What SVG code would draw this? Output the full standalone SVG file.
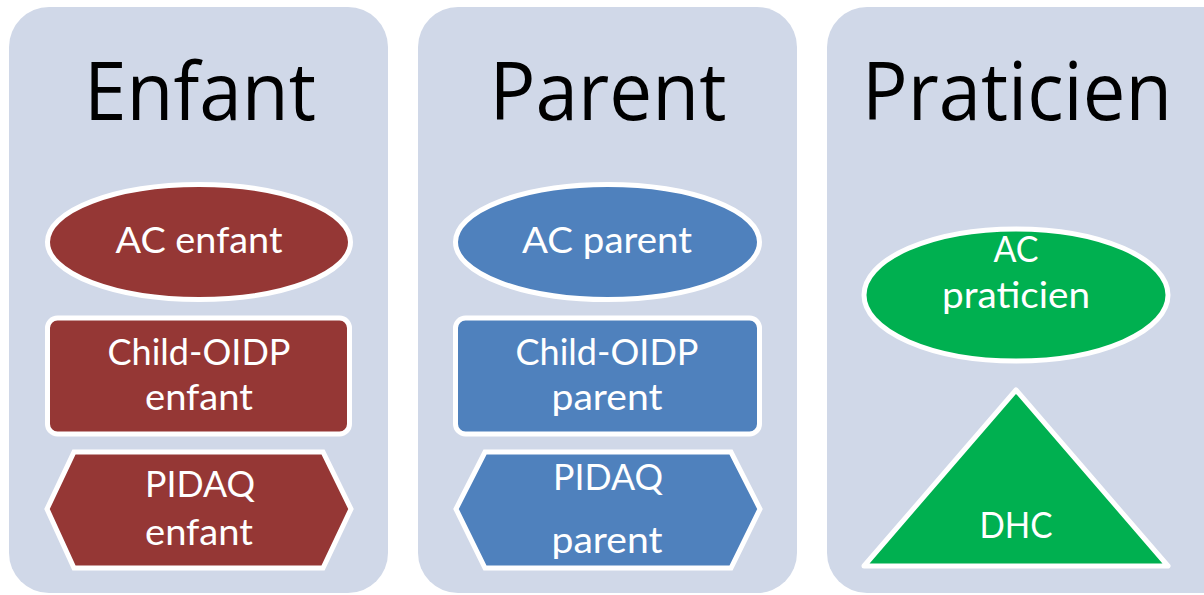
<svg xmlns="http://www.w3.org/2000/svg" width="1204" height="595" viewBox="0 0 1204 595">
<style>
.panel{fill:#D0D8E8}
.shape{stroke:#FFFFFF;stroke-width:5}
.red{fill:#953735}
.blue{fill:#4F81BD}
.green{fill:#00B050}
.title{font-family:"Open Sans","Liberation Sans",sans-serif;font-size:80px;fill:#000000;text-anchor:middle}
.lbl{font-family:Lato,"Liberation Sans",sans-serif;font-size:37px;fill:#FFFFFF;text-anchor:middle}
</style>
<rect width="1204" height="595" fill="#FFFFFF"/>
<g id="panel-enfant">
<rect class="panel" x="9" y="7" width="379" height="586" rx="40"/>
<text class="title" x="200" y="120" textLength="232" lengthAdjust="spacingAndGlyphs">Enfant</text>
</g>
<g id="panel-parent">
<rect class="panel" x="418" y="7" width="379" height="586" rx="40"/>
<text class="title" x="608" y="120" textLength="237" lengthAdjust="spacingAndGlyphs">Parent</text>
</g>
<g id="panel-praticien">
<rect class="panel" x="827" y="7" width="420" height="586" rx="40"/>
<text class="title" x="1017" y="120" textLength="310" lengthAdjust="spacingAndGlyphs">Praticien</text>
</g>
<g id="connectors"></g>
<g id="ac-enfant">
<ellipse class="shape red" cx="199" cy="242" rx="151.5" ry="57.5"/>
<text class="lbl" x="199" y="253" textLength="167" lengthAdjust="spacingAndGlyphs">AC enfant</text>
</g>
<g id="child-oidp-enfant">
<rect class="shape red" x="47.5" y="318" width="302" height="116" rx="10"/>
<text class="lbl" x="199" y="365" textLength="183" lengthAdjust="spacingAndGlyphs">Child-OIDP</text>
<text class="lbl" x="199" y="410" textLength="108" lengthAdjust="spacingAndGlyphs">enfant</text>
</g>
<g id="pidaq-enfant">
<polygon class="shape red" points="74,452 323,452 351,509 323,568 74,568 47,509"/>
<text class="lbl" x="200" y="497" textLength="110" lengthAdjust="spacingAndGlyphs">PIDAQ</text>
<text class="lbl" x="199" y="545" textLength="108" lengthAdjust="spacingAndGlyphs">enfant</text>
</g>
<g id="ac-parent">
<ellipse class="shape blue" cx="607.5" cy="242" rx="152" ry="57.5"/>
<text class="lbl" x="607" y="253" textLength="170" lengthAdjust="spacingAndGlyphs">AC parent</text>
</g>
<g id="child-oidp-parent">
<rect class="shape blue" x="455.5" y="318" width="304" height="116" rx="10"/>
<text class="lbl" x="607" y="365" textLength="183" lengthAdjust="spacingAndGlyphs">Child-OIDP</text>
<text class="lbl" x="607" y="410" textLength="111" lengthAdjust="spacingAndGlyphs">parent</text>
</g>
<g id="pidaq-parent">
<polygon class="shape blue" points="485,452 731,452 760,509 731,568 485,568 456,509"/>
<text class="lbl" x="608" y="490" textLength="110" lengthAdjust="spacingAndGlyphs">PIDAQ</text>
<text class="lbl" x="607" y="553" textLength="111" lengthAdjust="spacingAndGlyphs">parent</text>
</g>
<g id="ac-praticien">
<ellipse class="shape green" cx="1016" cy="295" rx="152" ry="66"/>
<text class="lbl" x="1016" y="262" textLength="45" lengthAdjust="spacingAndGlyphs">AC</text>
<text class="lbl" x="1016" y="308" textLength="148" lengthAdjust="spacingAndGlyphs">praticien</text>
</g>
<g id="dhc">
<polygon class="shape green" points="1016,390 1168,566 864,566" stroke-linejoin="round"/>
<text class="lbl" x="1016" y="538" textLength="73" lengthAdjust="spacingAndGlyphs">DHC</text>
</g>
</svg>
